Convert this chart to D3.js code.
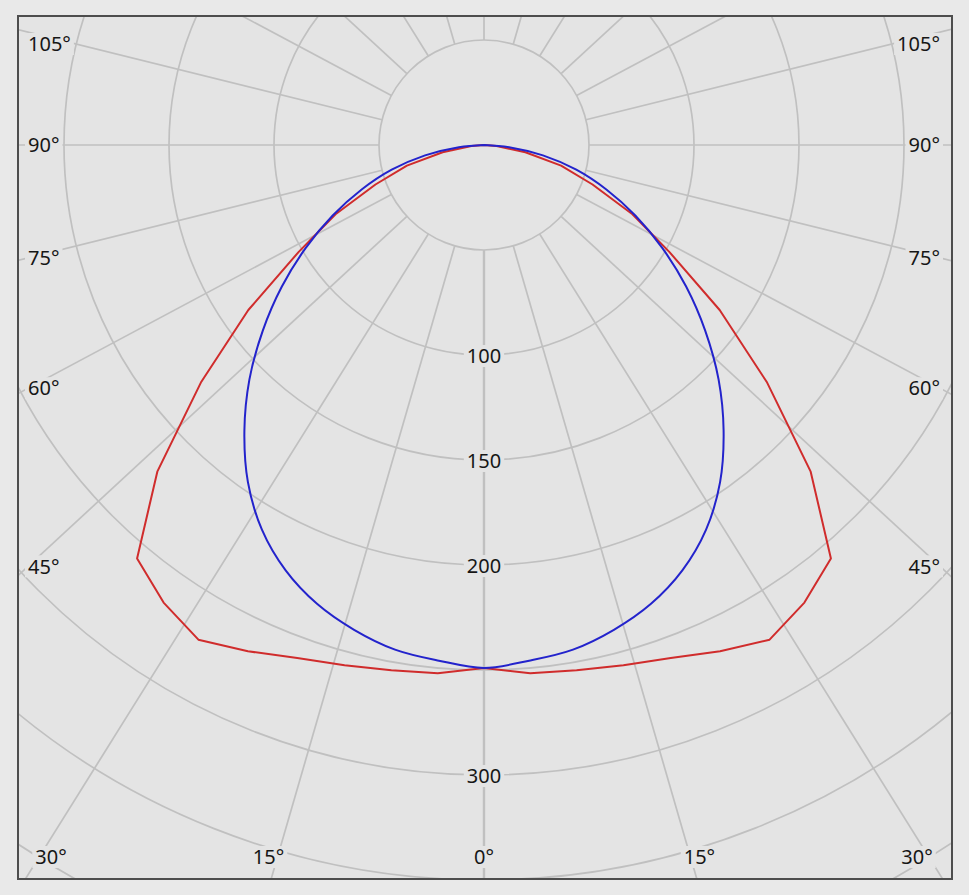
<!DOCTYPE html>
<html><head><meta charset="utf-8">
<script src="https://cdn.jsdelivr.net/npm/d3@7/dist/d3.min.js"></script>
<style>html,body{margin:0;padding:0;background:#e9e9e9;} svg{display:block;}</style>
</head><body>
<div id="chart"></div>
<script>
// ---- data (gamma angle in degrees, luminous intensity cd/klm) ----
const gammaAngles = [-90,-85,-80,-75,-70,-65,-60,-55,-50,-45,-40,-35,-30,-25,-20,-15,-10,-5,0,5,10,15,20,25,30,35,40,45,50,55,60,65,70,75,80,85,90];
const redSeries  = [0,6,20,38,55,78,102,137,176,220,257,266,272,266,260,256.5,254,252.5,249,252.5,254,256.5,260,266,272,266,257,220,176,137,102,78,55,38,20,6,0];
const blueSeries = [0,12,28.5,45.5,62,79.5,98,117.5,137.5,158,177.5,196,211.5,223.5,232.5,239,244,246.5,249,246.5,244,239,232.5,223.5,211.5,196,177.5,158,137.5,117.5,98,79.5,62,45.5,28.5,12,0];
const radialGrid = [50,100,150,200,250,300,350,400];
const radialLabels = [100,150,200,300];
const spokeAngles = [0,15,30,45,60,75,90,105,120,135,150,165,180,195,210,225,240,255,270,285,300,315,330,345];
const sideLabelAngles = [45,60,75,90,105];
const bottomLabelAngles = [0,15,30];

const W = 969, H = 895;
const frame = {x:18, y:16, w:934, h:863};
const cx = 484, cy = 145;
const rScale = d3.scaleLinear().domain([0,400]).range([0,840]);
const k = frame.w / frame.h;
const plotBg = "#e4e4e4";
const gridColor = "#c0c0c0";
const fontFamily = "'Noto Sans', 'DejaVu Sans', sans-serif";

const svg = d3.select("#chart").append("svg").attr("width", W).attr("height", H);
svg.append("rect").attr("width", W).attr("height", H).attr("fill", "#e9e9e9");
svg.append("defs").append("clipPath").attr("id","clip")
  .append("rect").attr("x",frame.x).attr("y",frame.y).attr("width",frame.w).attr("height",frame.h);

const plot = svg.append("g").attr("clip-path","url(#clip)");
plot.append("rect").attr("x",frame.x).attr("y",frame.y).attr("width",frame.w).attr("height",frame.h).attr("fill",plotBg);

// circles
plot.append("g").selectAll("circle").data(radialGrid).join("circle")
  .attr("cx",cx).attr("cy",cy).attr("r",d=>rScale(d))
  .attr("fill","none").attr("stroke",gridColor).attr("stroke-width",1.7);

// spokes (directions laid out in a square box, stretched to the frame's aspect)
function dir(deg){
  const a = deg*Math.PI/180;
  const dx = k*Math.sin(a), dy = Math.cos(a);
  const n = Math.hypot(dx,dy);
  return [dx/n, dy/n];
}
plot.append("g").selectAll("line").data(spokeAngles).join("line")
  .attr("x1",d=>cx+rScale(50)*dir(d)[0]).attr("y1",d=>cy+rScale(50)*dir(d)[1])
  .attr("x2",d=>cx+1600*dir(d)[0]).attr("y2",d=>cy+1600*dir(d)[1])
  .attr("stroke",gridColor).attr("stroke-width",d=>d===0?2.4:1.7);

// labels with masking background
const labelLayer = plot.append("g");
function addLabel(txt, x, y, anchor){
  const g = labelLayer.append("g");
  const t = g.append("text").attr("x",x).attr("y",y).attr("dy","0.36em")
    .attr("text-anchor",anchor).attr("font-family",fontFamily).attr("font-size",20)
    .attr("fill","#161616").text(txt);
  const bb = t.node().getBBox();
  g.insert("rect","text").attr("x",bb.x-3).attr("y",y-11).attr("width",bb.width+6).attr("height",22).attr("fill",plotBg);
}
radialLabels.forEach(v => addLabel(String(v), cx, cy + rScale(v) + 1, "middle"));

const inset = {left:28, right:940, top:44, bottom:857};
[-1,1].forEach(side => {
  sideLabelAngles.forEach(a => {
    const d = dir(a);
    const t = (side<0 ? cx-inset.left : inset.right-cx) / d[0];
    let y = cy + t*d[1];
    y = Math.max(inset.top, Math.min(inset.bottom, y));
    addLabel(a+"°", side<0 ? inset.left : inset.right, y, side<0 ? "start" : "end");
  });
  bottomLabelAngles.forEach(a => {
    if (a===0 && side>0) return;
    const d = dir(a);
    const t = (inset.bottom-cy)/d[1];
    let x = cx + side*(t*d[0] + (a===0?0:9));
    x = Math.max(51, Math.min(917, x));
    addLabel(a+"°", x, inset.bottom, "middle");
  });
});

// curves
const curves = plot.append("g").attr("transform",`translate(${cx},${cy})`);
function radial(series, curve){
  return d3.lineRadial()
    .angle((d,i)=> Math.PI - gammaAngles[i]*Math.PI/180)
    .radius(d=>rScale(d))
    .curve(curve)(series);
}
curves.append("path").attr("d", radial(redSeries, d3.curveLinear))
  .attr("fill","none").attr("stroke","#d02c2c").attr("stroke-width",2).attr("stroke-linejoin","round");
curves.append("path").attr("d", radial(blueSeries, d3.curveCatmullRom.alpha(0.5)))
  .attr("fill","none").attr("stroke","#2323cc").attr("stroke-width",2);

// frame
svg.append("rect").attr("x",frame.x).attr("y",frame.y).attr("width",frame.w).attr("height",frame.h)
  .attr("fill","none").attr("stroke","#4d4d4d").attr("stroke-width",2);
</script>
</body></html>
